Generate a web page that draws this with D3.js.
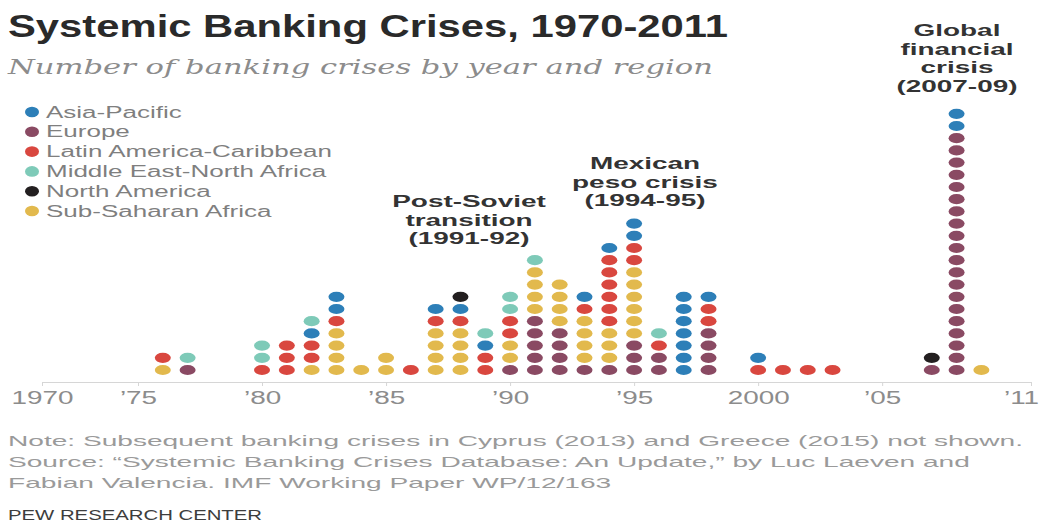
<!DOCTYPE html>
<html><head><meta charset="utf-8">
<script src="https://cdn.jsdelivr.net/npm/d3@7"></script>
<style>body{margin:0;background:#fff;} svg{display:block;}</style>
</head><body>
<svg id="chart" width="1048" height="523"></svg>
<script>
// ---------- DATA ----------
const regions = ["Asia-Pacific","Europe","Latin America-Caribbean","Middle East-North Africa","North America","Sub-Saharan Africa"];
const regionColors = ["#2d7fb8","#8a4a63","#d9473f","#7ecab8","#231f20","#e2b94d"];
// stacking order bottom -> top
const stackOrder = ["Europe","Sub-Saharan Africa","Latin America-Caribbean","Asia-Pacific","Middle East-North Africa","North America"];
const years        = [1976,1977,1980,1981,1982,1983,1984,1985,1986,1987,1988,1989,1990,1991,1992,1993,1994,1995,1996,1997,1998,2000,2001,2002,2003,2007,2008,2009];
const europe       = [0,1,0,0,0,0,0,0,0,0,0,0,1,5,4,1,1,3,2,0,4,0,0,0,0,1,20,0];
const subSaharan   = [1,0,0,0,1,4,1,2,0,4,4,0,2,4,4,4,3,6,0,0,0,0,0,0,0,0,0,1];
const latinAmerica = [1,0,1,3,2,1,0,0,1,1,1,2,2,0,0,1,6,2,1,0,2,1,1,1,1,0,0,0];
const asiaPacific  = [0,0,0,0,1,2,0,0,0,1,1,1,0,0,0,1,1,2,0,7,1,1,0,0,0,0,2,0];
const middleEast   = [0,1,2,0,1,0,0,0,0,0,0,1,2,1,0,0,0,0,1,0,0,0,0,0,0,0,0,0];
const northAmerica = [0,0,0,0,0,0,0,0,0,0,1,0,0,0,0,0,0,0,0,0,0,0,0,0,0,1,0,0];
const tickYears  = [1970,1975,1980,1985,1990,1995,2000,2005,2011];
const tickLabels = ["1970","\u201975","\u201980","\u201985","\u201990","\u201995","2000","\u201905","\u201911"];
const annotations = [
  ["Post-Soviet","transition","(1991-92)"],
  ["Mexican","peso crisis","(1994-95)"],
  ["Global","financial","crisis","(2007-09)"]
];
const titleText = "Systemic Banking Crises, 1970-2011";
const subtitleText = "Number of banking crises by year and region";
const noteLines = [
  "Note: Subsequent banking crises in Cyprus (2013) and Greece (2015) not shown.",
  "Source: \u201cSystemic Banking Crises Database: An Update,\u201d by Luc Laeven and",
  "Fabian Valencia. IMF Working Paper WP/12/163"
];
const creditText = "PEW RESEARCH CENTER";

const seriesByRegion = {
  "Asia-Pacific": asiaPacific, "Europe": europe, "Latin America-Caribbean": latinAmerica,
  "Middle East-North Africa": middleEast, "North America": northAmerica, "Sub-Saharan Africa": subSaharan
};

// ---------- SETUP ----------
const svg = d3.select("#chart");
const SANS = "'Liberation Sans', Arial, sans-serif";
const color = d3.scaleOrdinal().domain(regions).range(regionColors);

function measure(str, size, weight, family, style) {
  const t = svg.append("text").attr("font-size", size).attr("font-weight", weight || "normal")
    .attr("font-family", family).attr("font-style", style || "normal").text(str);
  const w = t.node().getComputedTextLength(); t.remove(); return w;
}
function addText(o) {
  const t = svg.append("text").attr("x", o.x).attr("y", o.y).text(o.text)
    .attr("font-size", o.size).attr("font-weight", o.weight || "normal")
    .attr("font-family", o.family || SANS).attr("font-style", o.style || "normal")
    .attr("fill", o.color).attr("text-anchor", o.anchor || "start");
  let w = null;
  if (o.width) w = o.width;
  else if (o.factor) w = t.node().getComputedTextLength() * o.factor;
  if (w) t.attr("textLength", w).attr("lengthAdjust", "spacingAndGlyphs");
  return t;
}

// ---------- TITLES ----------
addText({x: 8, y: 37, text: titleText, size: 31, weight: "bold", color: "#2a2a2a", width: 720});
addText({x: 8, y: 74, text: subtitleText, size: 21, style: "italic", family: "'DejaVu Serif', Georgia, serif", color: "#8c8c8c", width: 705});

// ---------- LEGEND ----------
const legFactor = 286 / measure("Latin America-Caribbean", 16, "normal", SANS);
regions.forEach((r, i) => {
  const cy = 112 + i * 19.8;
  svg.append("ellipse").attr("cx", 32).attr("cy", cy).attr("rx", 7).attr("ry", 5.3).attr("fill", color(r));
  addText({x: 46, y: cy + 5.5, text: r, size: 16, color: "#7f7f7f", factor: legFactor});
});

// ---------- SCALES ----------
const x = d3.scaleLinear().domain([1970, 1975, 2011]).range([42, 138, 1031]);
const y = d3.scaleLinear().domain([0, 21]).range([370, 370 - 21 * 12.2]);

// ---------- DOTS ----------
const dots = [];
years.forEach((yr, j) => {
  let k = 0;
  stackOrder.forEach(r => {
    const n = seriesByRegion[r][j];
    for (let m = 0; m < n; m++) { dots.push({year: yr, region: r, idx: k}); k++; }
  });
});
svg.append("g").selectAll("ellipse").data(dots).join("ellipse")
  .attr("cx", d => x(d.year)).attr("cy", d => y(d.idx))
  .attr("rx", 8).attr("ry", 5.1).attr("fill", d => color(d.region));

// ---------- AXIS ----------
const axisFactor = 62 / measure("2000", 18, "normal", SANS);
const axis = d3.axisBottom(x).tickValues(tickYears).tickFormat((d, i) => tickLabels[i])
  .tickSize(4).tickSizeOuter(0);
const gx = svg.append("g").attr("transform", "translate(0,382)").call(axis);
gx.select(".domain").attr("stroke", "#d6d6d6");
gx.selectAll(".tick line").attr("stroke", "#d6d6d6");
gx.selectAll(".tick text").attr("font-size", 18).attr("font-family", SANS).attr("fill", "#8c8c8c").attr("y", 9)
  .each(function(d, i) {
    const w = this.getComputedTextLength() * axisFactor;
    d3.select(this).attr("textLength", w).attr("lengthAdjust", "spacingAndGlyphs");
    if (i === tickYears.length - 1) d3.select(this).attr("x", -10);
  });

// ---------- ANNOTATIONS ----------
const annFactor = 121 / measure("(1994-95)", 16, "bold", SANS);
const annPos = [{cx: 469, y0: 207}, {cx: 645, y0: 169}, {cx: 957, y0: 36}];
annotations.forEach((lines, a) => {
  lines.forEach((ln, i) => {
    addText({x: annPos[a].cx, y: annPos[a].y0 + i * 18.5, text: ln, size: 16, weight: "bold", color: "#333", anchor: "middle", factor: annFactor});
  });
});

// ---------- NOTES ----------
const noteFactor = 1015 / measure(noteLines[0], 15, "normal", SANS);
noteLines.forEach((ln, i) => {
  addText({x: 8, y: 446 + i * 21, text: ln, size: 15, color: "#9a9a9a", factor: noteFactor});
});
addText({x: 8, y: 520, text: creditText, size: 15, color: "#3d3d3d", width: 254});
</script>
</body></html>
